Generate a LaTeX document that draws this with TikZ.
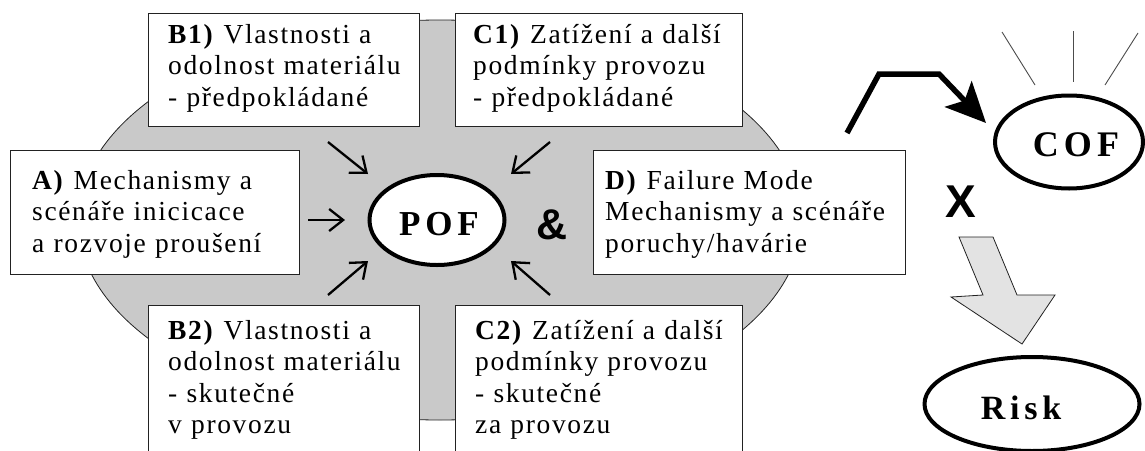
\documentclass[tikz,border=0pt]{standalone}
\usepackage{fontspec}
\setmainfont{Liberation Serif}
\newfontfamily\boxfont[LetterSpace=6]{Liberation Serif}
\newfontfamily\bigfont[LetterSpace=14]{Liberation Serif}
\newfontfamily\sansbold{Liberation Sans}
\usetikzlibrary{arrows.meta,shapes.geometric}
\definecolor{bggray}{HTML}{C9C9C9}
\definecolor{lightgray2}{HTML}{E3E3E3}
\definecolor{edge}{HTML}{222222}
\begin{document}
\begin{tikzpicture}[x=1pt,y=-1pt,
  boxr/.style={draw=edge, line width=1.2pt, fill=white, anchor=north west, inner sep=0pt},
  txt/.style={anchor=base west, inner sep=0pt, text width=330pt, align=left,
    font=\boxfont\fontsize{27.5}{31.5}\selectfont},
  oval/.style={ellipse, draw=black, line width=4pt, fill=white, inner sep=0pt},
  bigtxt/.style={inner sep=0pt, font=\bigfont\bfseries\fontsize{35}{35}\selectfont},
  arr/.style={line width=2.3pt, -{Straight Barb[length=14pt,width=22pt]}},
]
\useasboundingbox (0,0) rectangle (1145,450);

% background ellipse
\node[ellipse, draw=edge, line width=0.8pt, fill=bggray, minimum width=724pt, minimum height=400pt, inner sep=0pt] (bg) at (440,220) {};

% boxes
\node[boxr, minimum width=271pt, minimum height=113pt] (b1) at (148,13) {};
\node[boxr, minimum width=287pt, minimum height=113pt] (c1) at (455,13) {};
\node[boxr, minimum width=289pt, minimum height=124pt] (a) at (10,150) {};
\node[boxr, minimum width=312pt, minimum height=124pt] (d) at (593,150) {};
\node[boxr, minimum width=271pt, minimum height=160pt] (b2) at (148,305) {};
\node[boxr, minimum width=287pt, minimum height=160pt] (c2) at (455,305) {};

% box texts
\node[txt] (b1t) at (168,43) {\textbf{B1)} Vlastnosti a\\odolnost materiálu\\- předpokládané};
\node[txt] (c1t) at (473,43) {\textbf{C1)} Zatížení a další\\podmínky provozu\\- předpokládané};
\node[txt] (at) at (32,189) {\textbf{A)} Mechanismy a\\scénáře inicicace\\a rozvoje proušení};
\node[txt] (dt) at (605,189) {\textbf{D)} Failure Mode\\Mechanismy a scénáře\\poruchy/havárie};
\node[txt] (b2t) at (168,339) {\textbf{B2)} Vlastnosti a\\odolnost materiálu\\- skutečné\\v provozu};
\node[txt] (c2t) at (475,339) {\textbf{C2)} Zatížení a další\\podmínky provozu\\- skutečné\\za provozu};

% POF
\node[oval, minimum width=135pt, minimum height=90pt] (pof) at (437,220) {};
\node[bigtxt] (poft) at (439,224) {POF};

% small arrows
\coordinate (aS) at (308,220); \coordinate (aE) at (345,220);
\coordinate (b1S) at (328,142); \coordinate (b1E) at (368,174);
\coordinate (c1S) at (550,142); \coordinate (c1E) at (511,174);
\coordinate (b2S) at (328,295); \coordinate (b2E) at (368,261);
\coordinate (c2S) at (550,295); \coordinate (c2E) at (511,261);
\draw[arr] (aS) -- (aE);
\draw[arr] (b1S) -- (b1E);
\draw[arr] (c1S) -- (c1E);
\draw[arr] (b2S) -- (b2E);
\draw[arr] (c2S) -- (c2E);

% ampersand
\node[inner sep=0pt, font=\sansbold\bfseries\fontsize{43}{43}\selectfont] (amp) at (552,225) {\&};

% COF
\node[oval, minimum width=148pt, minimum height=93pt] (cof) at (1069,142) {};
\node[bigtxt, font=\bigfont\bfseries\fontsize{36}{36}\selectfont] (coft) at (1076,145) {COF};

% rays
\coordinate (r1a) at (1002,32); \coordinate (r1b) at (1035,85);
\coordinate (r2a) at (1073,31); \coordinate (r2b) at (1073,82);
\coordinate (r3a) at (1138,33); \coordinate (r3b) at (1105,85);
\draw[black!70, line width=0.9pt] (r1a) -- (r1b);
\draw[black!70, line width=0.9pt] (r2a) -- (r2b);
\draw[black!70, line width=0.9pt] (r3a) -- (r3b);

% bent arrow D -> COF
\coordinate (dk) at (847,133);
\coordinate (ctip) at (986,123);
\draw[line width=5.5pt, -{Stealth[length=40pt,width=37pt,inset=9pt]}] (dk) -- (879,74) -- (939,74) -- (ctip);

% X
\node[inner sep=0pt, font=\sansbold\bfseries\fontsize{46}{46}\selectfont] (x) at (961,202) {X};

% block arrow
\draw[fill=lightgray2, draw=edge, line width=0.8pt] (959,237) -- (993,237) -- (1017,295) -- (1055,295) -- (1022,344) -- (951,297) -- (983,295) -- cycle;

% Risk
\node[oval, minimum width=215pt, minimum height=94pt] (risk) at (1032,404) {};
\node[bigtxt, font=\bigfont\bfseries\fontsize{34}{34}\selectfont] (riskt) at (1021,408) {Risk};
\end{tikzpicture}
\end{document}
